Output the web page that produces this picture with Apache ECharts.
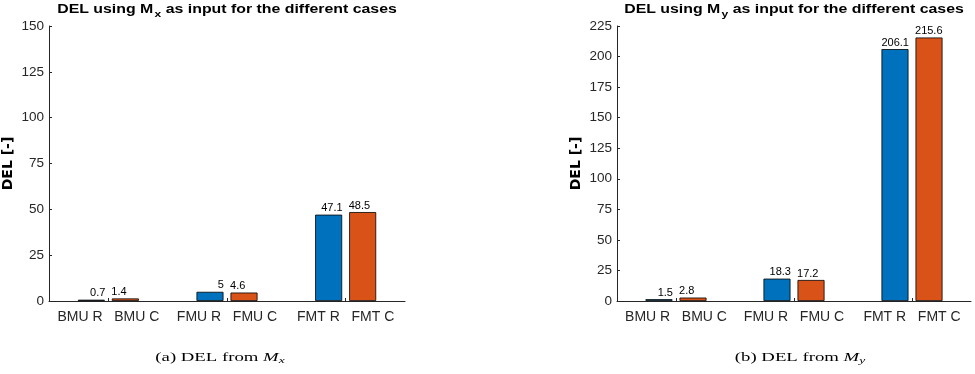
<!DOCTYPE html>
<html>
<head>
<meta charset="utf-8">
<script src="https://cdn.jsdelivr.net/npm/echarts@6/dist/echarts.min.js"></script>
<style>html,body{margin:0;padding:0;background:#fff;}#c{width:975px;height:374px;}</style>
</head>
<body>
<div id="c"></div>
<script>
const groups = ['BMU', 'FMU', 'FMT'];
const labelsR = ['BMU R', 'FMU R', 'FMT R'];
const labelsC = ['BMU C', 'FMU C', 'FMT C'];
const mxR = [0.7, 5, 47.1];
const mxC = [1.4, 4.6, 48.5];
const myR = [1.5, 18.3, 206.1];
const myC = [2.8, 17.2, 215.6];
const yTicksLeft = { min: 0, max: 150, step: 25 };
const yTicksRight = { min: 0, max: 225, step: 25 };

const BLUE = '#0072BD', ORANGE = '#D95319', AX = '#262626';
const SANS = 'Liberation Sans, Arial, sans-serif';
const SERIF = 'Liberation Serif, Times New Roman, serif';

function xAxis(gi) {
  return {
    type: 'category', gridIndex: gi, data: groups,
    axisLine: { lineStyle: { color: AX, width: 1 } },
    axisTick: { show: true, inside: true, alignWithLabel: true, length: 3, lineStyle: { color: AX } },
    axisLabel: {
      interval: 0, hideOverlap: false,
      margin: 9, color: AX, fontSize: 14, fontFamily: SANS,
      formatter: (v, i) => labelsR[i] + '   ' + labelsC[i]
    },
    splitLine: { show: false }
  };
}
function yAxis(gi, t) {
  return {
    type: 'value', gridIndex: gi, min: t.min, max: t.max, interval: t.step,
    name: 'DEL [-]', nameLocation: 'middle', nameGap: 34,
    nameTextStyle: { fontWeight: 'bold', fontSize: 14, color: '#000', fontFamily: 'DejaVu Sans, sans-serif' },
    axisLine: { show: true, lineStyle: { color: AX, width: 1 } },
    axisTick: { show: true, inside: true, length: 3, lineStyle: { color: AX } },
    axisLabel: { margin: 5, color: AX, fontSize: 13.5, fontFamily: SANS },
    splitLine: { show: false }
  };
}
function series(gi, data, color, isR) {
  return {
    type: 'bar', xAxisIndex: gi, yAxisIndex: gi, data: data,
    barWidth: 27, barGap: '26%',
    itemStyle: { color: color, borderColor: '#000', borderWidth: 0.8 },
    label: {
      show: true, position: 'top', distance: 1,
      align: isR ? 'right' : 'left', offset: isR ? [14, 0] : [-14, 0],
      color: '#000', fontSize: 11, fontFamily: SANS
    }
  };
}
const titleRich = {
  b: { fontSize: 12.5, fontWeight: 'bold', fill: '#000', fontFamily: SANS, lineHeight: 15, verticalAlign: 'top' },
  s: { fontSize: 9.5, fontWeight: 'bold', fill: '#000', fontFamily: SANS, lineHeight: 15, verticalAlign: 'top', padding: [6, 0, 0, 1] }
};
const capRich = {
  n: { fontSize: 12.5, fill: '#000', fontFamily: SERIF, lineHeight: 15, verticalAlign: 'top' },
  i: { fontSize: 12.5, fill: '#000', fontFamily: SERIF, fontStyle: 'italic', lineHeight: 15, verticalAlign: 'top' },
  s: { fontSize: 9, fill: '#000', fontFamily: SERIF, fontStyle: 'italic', lineHeight: 15, verticalAlign: 'top', padding: [5, 0, 0, 0] }
};
function stretchedText(cx, y, text, rich, sx) {
  return {
    type: 'text', x: cx, y: y, scaleX: sx, silent: true,
    style: { text: text, rich: rich, align: 'center', verticalAlign: 'top' }
  };
}

const chart = echarts.init(document.getElementById('c'), null, { renderer: 'canvas' });
chart.setOption({
  animation: false,
  backgroundColor: '#fff',
  graphic: [
    stretchedText(227, 3, '{b|DEL using M}{s|x}{b| as input for the different cases}', titleRich, 1.27),
    stretchedText(794, 3, '{b|DEL using M}{s|y}{b| as input for the different cases}', titleRich, 1.27),
    stretchedText(220, 351, '{n|(a) DEL from }{i|M}{s|x}', capRich, 1.5),
    stretchedText(800, 351, '{n|(b) DEL from }{i|M}{s|y}', capRich, 1.5)
  ],
  grid: [
    { left: 49, top: 26, width: 356, height: 275 },
    { left: 617, top: 26, width: 354, height: 275 }
  ],
  xAxis: [xAxis(0), xAxis(1)],
  yAxis: [yAxis(0, yTicksLeft), yAxis(1, yTicksRight)],
  series: [
    series(0, mxR, BLUE, true), series(0, mxC, ORANGE, false),
    series(1, myR, BLUE, true), series(1, myC, ORANGE, false)
  ]
});
</script>
</body>
</html>
